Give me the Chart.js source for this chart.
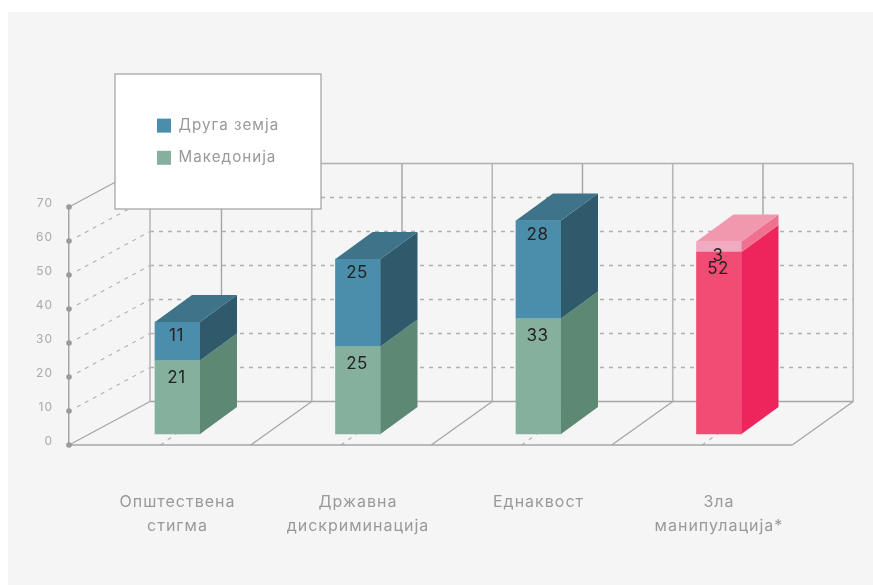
<!DOCTYPE html>
<html>
<head>
<meta charset="utf-8">
<style>
  html, body { margin: 0; background: #fff; }
  canvas { display: block; }
</style>
<script src="https://cdn.jsdelivr.net/npm/chart.js@4"></script>
</head>
<body>
<canvas id="myChart" width="873" height="585"></canvas>
<script>
var categories = [["Општествена", "стигма"], ["Државна", "дискриминација"], "Еднаквост", ["Зла", "манипулација*"]];
var makedonija = [21, 25, 33, 52];
var drugaZemja = [11, 25, 28, 3];
var yTicks = [0, 10, 20, 30, 40, 50, 60, 70];

var FONT = "Inter";
var GREY_LINE = "#a6a6a6";
var barDepthX = 37, barDepthY = 27;   // offset of the back of a bar
var wallX = 44, wallY = 43.5;         // floor depth
var floorX = 61;

var lowerFront = function (c) { return c.dataIndex === 3 ? "#f34c74" : "#86b09e"; };
var upperFront = function (c) { return c.dataIndex === 3 ? "#f1abc0" : "#4a8eab"; };
var lowerSide = ["#5c8874", "#5c8874", "#5c8874", "#ee245c"];
var upperSide = ["#2e5a6b", "#2e5a6b", "#2e5a6b", "#f0708f"];
var upperTop = ["#3f7389", "#3f7389", "#3f7389", "#f198af"];

function line(ctx, x1, y1, x2, y2, color, width, dash) {
  ctx.beginPath();
  ctx.strokeStyle = color;
  ctx.lineWidth = width;
  ctx.setLineDash(dash || []);
  ctx.moveTo(x1, y1);
  ctx.lineTo(x2, y2);
  ctx.stroke();
  ctx.setLineDash([]);
}

function poly(ctx, pts, color) {
  ctx.beginPath();
  ctx.fillStyle = color;
  pts.forEach(function (p, i) { i ? ctx.lineTo(p[0], p[1]) : ctx.moveTo(p[0], p[1]); });
  ctx.closePath();
  ctx.fill();
}

// panel, back wall, floor and the legend box, all under the axes
var frame = {
  id: "frame",
  beforeDraw: function (chart) {
    var ctx = chart.ctx, y = chart.scales.y, x = chart.scales.x;
    var left = y.left + y.width, bottom = y.getPixelForValue(0), top = y.getPixelForValue(70);
    var backLeft = left + 81, step = x.getPixelForValue(1) - x.getPixelForValue(0);
    var backRight = x.getPixelForValue(3) + wallX + step / 2;
    ctx.save();
    ctx.fillStyle = "#f5f5f5";
    ctx.fillRect(8, 12, 865, 573);

    yTicks.forEach(function (t) {
      if (t === 0 || t === 70) return;
      var py = y.getPixelForValue(t);
      line(ctx, backLeft, py - wallY, backRight, py - wallY, "#b0b0b0", 1.5, [4, 5]);
      line(ctx, left + 8, py - 4, backLeft, py - wallY, "#b0b0b0", 1.1, [4, 5]);
    });

    var backs = [backLeft];
    categories.forEach(function (c, i) {
      var cx = x.getPixelForValue(i) + wallX;
      line(ctx, cx, bottom - wallY, cx, top - wallY, "#a4a4a4", 1.4);
      line(ctx, cx - floorX, bottom, cx, bottom - wallY, "#b0b0b0", 1.1, [4, 5]);
      backs.push(cx + step / 2);
    });
    backs.forEach(function (bx, i) {
      line(ctx, bx, bottom - wallY, bx, top - wallY, "#b8b8b8", 1.6);
      line(ctx, i ? bx - floorX : left, bottom, bx, bottom - wallY, GREY_LINE, 1.3);
    });
    line(ctx, backLeft, top - wallY, backRight, top - wallY, "#b0b0b0", 1.6);
    line(ctx, backLeft, bottom - wallY, backRight, bottom - wallY, GREY_LINE, 1.3);
    line(ctx, left, bottom, backRight - floorX, bottom, GREY_LINE, 1.6);
    line(ctx, left, top, backLeft, top - wallY, GREY_LINE, 1.3);

    ctx.fillStyle = "#fff";
    ctx.fillRect(115, 74, 206, 135);
    ctx.strokeStyle = "#a6a6a6";
    ctx.lineWidth = 1.3;
    ctx.strokeRect(115, 74, 206, 135);
    ctx.restore();
    ctx.letterSpacing = "1px";
  },
  afterLayout: function (chart) {
    var lg = chart.legend;
    lg.left = 140; lg.right = 320; lg.top = 101; lg.bottom = 300;
  },
  beforeDatasetsDraw: function (chart) {
    var ctx = chart.ctx, y = chart.scales.y;
    yTicks.forEach(function (t) {
      ctx.beginPath();
      ctx.fillStyle = "#9a9a9a";
      ctx.arc(y.left + y.width, y.getPixelForValue(t), 2.8, 0, Math.PI * 2);
      ctx.fill();
    });
  },
  // side and top faces of the bars, taken from the bar elements
  afterDatasetsDraw: function (chart) {
    var ctx = chart.ctx;
    var lower = chart.getDatasetMeta(0).data, upper = chart.getDatasetMeta(1).data;
    lower.forEach(function (low, i) {
      var up = upper[i], r = low.x + low.width / 2, l = low.x - low.width / 2;
      poly(ctx, [[r, low.base], [r + barDepthX, low.base - barDepthY], [r + barDepthX, low.y - barDepthY], [r, low.y]], lowerSide[i]);
      poly(ctx, [[r, low.y], [r + barDepthX, low.y - barDepthY], [r + barDepthX, up.y - barDepthY], [r, up.y]], upperSide[i]);
      poly(ctx, [[l, up.y], [r, up.y], [r + barDepthX, up.y - barDepthY], [l + barDepthX, up.y - barDepthY]], upperTop[i]);

      ctx.save();
      ctx.letterSpacing = "0.5px";
      ctx.font = "17px " + FONT;
      ctx.fillStyle = "#222";
      ctx.textAlign = "center";
      ctx.textBaseline = "middle";
      ctx.fillText(makedonija[i], low.x - 1, low.y + 17);
      ctx.fillText(drugaZemja[i], up.x - 1, up.y + 14);
      ctx.restore();
    });
  }
};

var ctx = document.getElementById("myChart");
var myChart = new Chart(ctx, {
  type: "bar",
  plugins: [frame],
  data: {
    datasets: [
      {
        label: "Македонија",
        data: makedonija.map(function (v, i) { return { x: i, y: v }; }),
        backgroundColor: lowerFront,
        yAxisID: "yBars",
        barThickness: 45
      },
      {
        label: "Друга земја",
        data: drugaZemja.map(function (v, i) { return { x: i, y: v }; }),
        backgroundColor: upperFront,
        yAxisID: "yBars",
        barThickness: 45
      }
    ]
  },
  options: {
    responsive: false,
    animation: false,
    layout: { padding: { top: 207, right: 19 } },
    plugins: {
      tooltip: { enabled: false },
      legend: {
        position: "chartArea",
        align: "start",
        reverse: true,
        labels: {
          boxWidth: 14,
          boxHeight: 14,
          padding: 17,
          color: "#999",
          font: { family: FONT, size: 15.2 }
        }
      }
    },
    scales: {
      x: {
        type: "linear",
        offset: false,
        stacked: true,
        min: -0.601,
        max: 3.748,
        grid: { display: false },
        border: { display: false },
        afterFit: function (s) { s.height = 140; },
        afterBuildTicks: function (s) {
          s.ticks = categories.map(function (c, i) { return { value: i }; });
        },
        ticks: {
          autoSkip: false,
          maxRotation: 0,
          padding: 38,
          color: "#999",
          font: { family: FONT, size: 16, lineHeight: 1.45 },
          callback: function (v) { return categories[v]; }
        }
      },
      y: {
        min: 0,
        max: 70,
        afterFit: function (s) { s.width = 69; },
        afterBuildTicks: function (s) {
          s.ticks = yTicks.map(function (t) { return { value: t }; });
        },
        grid: { display: false },
        border: { color: GREY_LINE, width: 1.5 },
        ticks: {
          padding: 8,
          labelOffset: -4,
          color: "#aaa",
          font: { family: FONT, size: 12 }
        }
      },
      yBars: {
        display: false,
        stacked: true,
        min: -3.14,
        max: 64.86
      }
    }
  }
});
</script>
</body>
</html>
